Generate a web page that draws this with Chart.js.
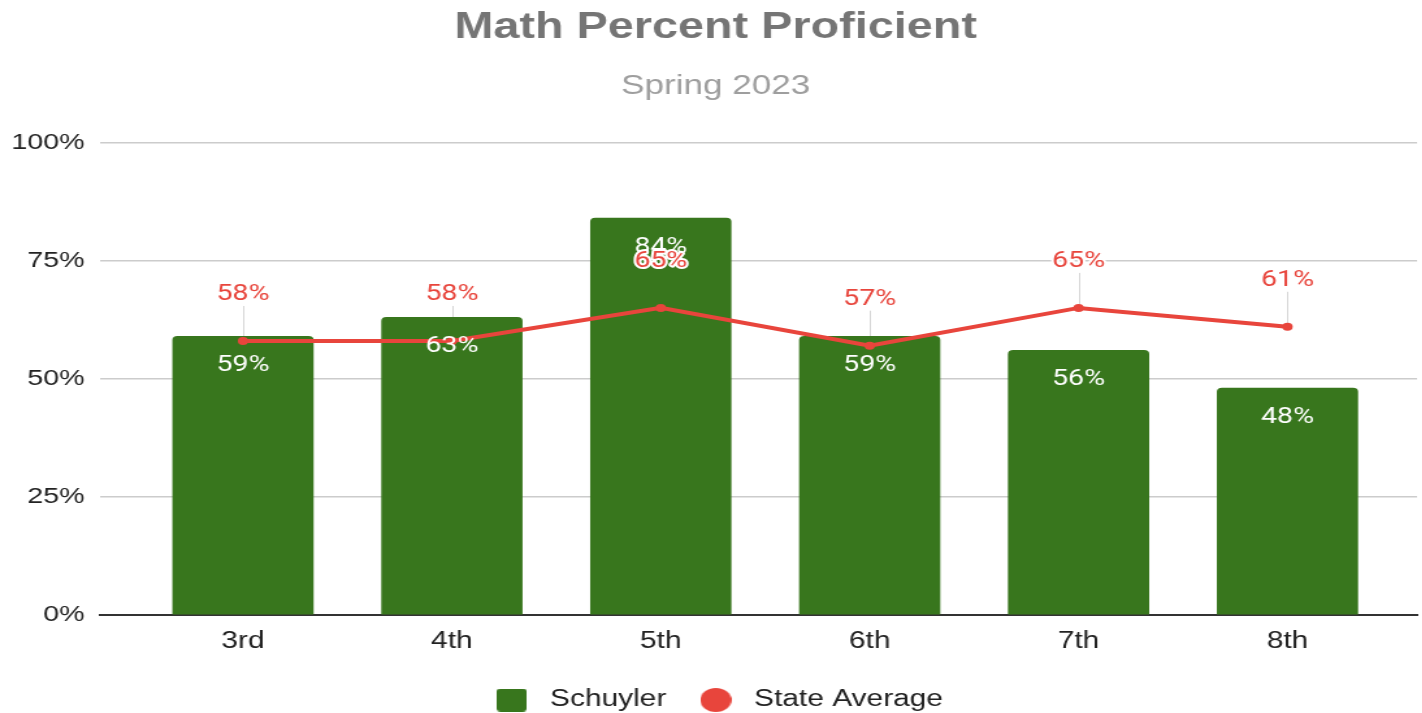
<!DOCTYPE html>
<html><head><meta charset="utf-8">
<script src="https://cdn.jsdelivr.net/npm/chart.js@4.4.1/dist/chart.umd.min.js"></script>
<style>
html,body{margin:0;padding:0;background:#fff;overflow:hidden;}
#wrap{width:1094px;height:713px;transform:scaleX(1.3);transform-origin:0 0;}
</style></head><body>
<div id="wrap"><canvas id="c"></canvas></div>
<script>
const categories = ['3rd', '4th', '5th', '6th', '7th', '8th'];
const schuyler = [59, 63, 84, 59, 56, 48];
const stateAverage = [58, 58, 65, 57, 65, 61];
const yTicks = [0, 25, 50, 75, 100];
const seriesNames = ['Schuyler', 'State Average'];
const titleText = 'Math Percent Proficient';
const subtitleText = 'Spring 2023';

const GREEN = '#38761d';
const RED = '#e8453c';
const LABEL_FONT = '22px Roboto';

function makeIcon(kind, color, size) {
  const c = document.createElement('canvas');
  c.width = size; c.height = size;
  const g = c.getContext('2d');
  g.fillStyle = color;
  if (kind === 'circle') {
    g.beginPath(); g.arc(size / 2, size / 2, size / 2, 0, Math.PI * 2); g.fill();
  } else {
    g.beginPath(); g.roundRect(0, 0, size, size, 3); g.fill();
  }
  return c;
}
const legendIcons = [makeIcon('rect', GREEN, 23), makeIcon('circle', RED, 24)];

const labelPlugin = {
  id: 'valueLabels',
  beforeDatasetsDraw(chart) {
    const ctx = chart.ctx;
    const meta = chart.getDatasetMeta(1);
    ctx.save();
    ctx.strokeStyle = '#d6d6d6';
    ctx.lineWidth = 1;
    meta.data.forEach(pt => {
      ctx.beginPath();
      ctx.moveTo(Math.round(pt.x) + 0.5, pt.y - 35);
      ctx.lineTo(Math.round(pt.x) + 0.5, pt.y);
      ctx.stroke();
    });
    ctx.restore();
  },
  afterDatasetsDraw(chart) {
    const ctx = chart.ctx;
    ctx.save();
    ctx.font = LABEL_FONT;
    ctx.textAlign = 'center';
    ctx.textBaseline = 'middle';
    const barMeta = chart.getDatasetMeta(0);
    barMeta.data.forEach((bar, i) => {
      ctx.fillStyle = '#ffffff';
      ctx.fillText(schuyler[i] + '%', bar.x, bar.y + 29);
    });
    const lineMeta = chart.getDatasetMeta(1);
    lineMeta.data.forEach((pt, i) => {
      const t = stateAverage[i] + '%';
      ctx.lineJoin = 'round';
      ctx.strokeStyle = '#ffffff';
      ctx.lineWidth = 4;
      ctx.strokeText(t, pt.x, pt.y - 46);
      ctx.fillStyle = RED;
      ctx.fillText(t, pt.x, pt.y - 46);
    });
    ctx.restore();
  }
};

new Chart(document.getElementById('c'), {
  type: 'bar',
  data: {
    datasets: [
      {
        type: 'bar',
        label: seriesNames[0],
        data: schuyler.map((v, i) => ({ x: i, y: v })),
        backgroundColor: GREEN,
        borderRadius: 4,
        barThickness: 108,
        order: 2
      },
      {
        type: 'line',
        label: seriesNames[1],
        data: stateAverage.map((v, i) => ({ x: i, y: v })),
        borderColor: RED,
        backgroundColor: RED,
        borderWidth: 4,
        pointRadius: 4,
        pointBackgroundColor: RED,
        pointBorderWidth: 0,
        tension: 0,
        order: 1
      }
    ]
  },
  options: {
    responsive: true,
    maintainAspectRatio: false,
    animation: false,
    layout: { padding: { left: 9, right: 2, top: 0, bottom: -8.5 } },
    scales: {
      x: {
        type: 'linear',
        min: -0.684,
        max: 5.62,
        offset: false,
        afterBuildTicks: s => { s.ticks = categories.map((_, i) => ({ value: i })); },
        ticks: {
          callback: v => categories[v],
          font: { family: 'Liberation Sans', size: 23 },
          color: '#222',
          padding: 13,
          maxRotation: 0,
          autoSkip: false
        },
        grid: { display: false, drawTicks: false },
        border: { display: true, color: '#333', width: 2 }
      },
      y: {
        min: 0,
        max: 100,
        afterBuildTicks: s => { s.ticks = yTicks.map(v => ({ value: v })); },
        afterFit: s => { s.width = 68; },
        ticks: {
          callback: v => v + '%',
          font: { family: 'Liberation Sans', size: 22 },
          color: '#222',
          padding: 12
        },
        grid: {
          drawTicks: false,
          lineWidth: 1.5,
          color: c => (c.tick && c.tick.value === 0) ? 'rgba(0,0,0,0)' : '#cccccc'
        },
        border: { display: false }
      }
    },
    plugins: {
      title: {
        display: true,
        text: titleText,
        color: '#757575',
        font: { family: 'Liberation Sans', size: 36, weight: 'bold' },
        padding: { top: 6, bottom: 0 }
      },
      subtitle: {
        display: true,
        text: subtitleText,
        color: '#9e9e9e',
        font: { family: 'Liberation Sans', size: 27, weight: 'normal' },
        padding: { top: 21, bottom: 40 }
      },
      legend: {
        position: 'bottom',
        labels: {
          usePointStyle: true,
          pointStyleWidth: 36,
          font: { family: 'Liberation Sans', size: 23 },
          color: '#222',
          padding: 20,
          generateLabels: chart => chart.data.datasets.map((ds, i) => ({
            text: ds.label,
            fillStyle: i === 0 ? GREEN : RED,
            strokeStyle: i === 0 ? GREEN : RED,
            lineWidth: 0,
            pointStyle: legendIcons[i],
            hidden: false,
            datasetIndex: i,
            fontColor: '#222'
          }))
        }
      },
      tooltip: { enabled: false }
    }
  },
  plugins: [labelPlugin]
});
</script>
</body></html>
